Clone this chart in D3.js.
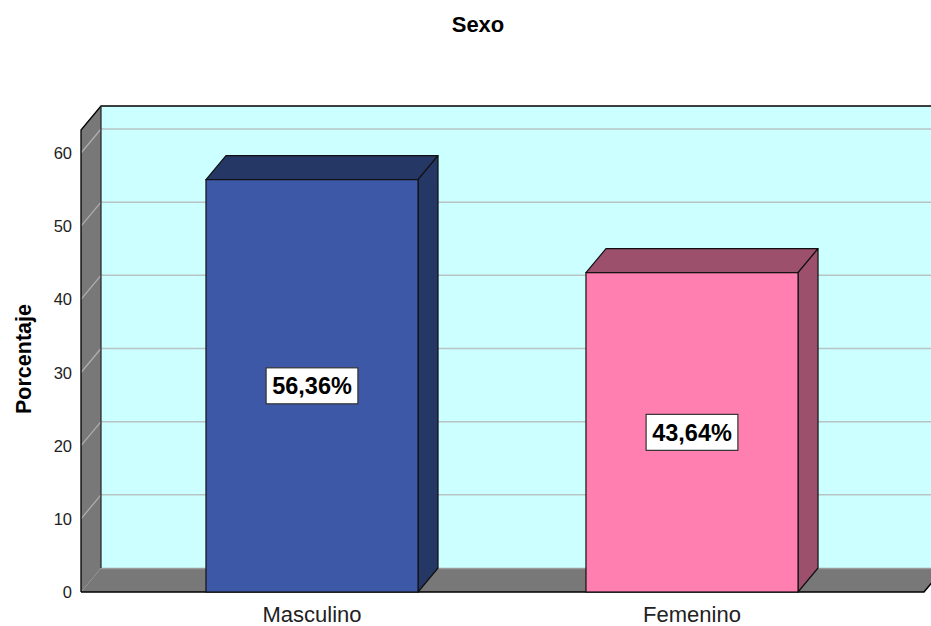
<!DOCTYPE html>
<html>
<head>
<meta charset="utf-8">
<script src="https://cdn.jsdelivr.net/npm/d3@7"></script>
<style>
  html, body { margin: 0; padding: 0; background: #fff; }
  svg { display: block; }
  text { font-family: "Liberation Sans", Arial, sans-serif; }
</style>
</head>
<body>
<svg id="chart" width="931" height="626"></svg>
<script>
const title = "Sexo";
const yTitle = "Porcentaje";
const categories = ["Masculino", "Femenino"];
const values = [56.36, 43.64];
const valueLabels = ["56,36%", "43,64%"];
const yTicks = [0, 10, 20, 30, 40, 50, 60];
const frontColors = ["#3E58A8", "#FF80B0"];
const sideColors = ["#253764", "#9C506C"];

const W = 931, H = 626;
const svg = d3.select("#chart");

// 3D depth offset
const dx = 20, dy = -24;
const x0 = 81, x1 = 924;

const y = d3.scaleLinear().domain([0, 60]).range([592, 153]);
const yTop = y.invert(130);

const x = d3.scaleBand().domain(categories).range([122, 882])
  .paddingInner(0.442).paddingOuter(0.221);

const pts = a => a.map(p => p.join(",")).join(" ");

// back wall
svg.append("polygon")
  .attr("points", pts([[x0 + dx, y(0) + dy], [x0 + dx, y(yTop) + dy], [x1 + dx, y(yTop) + dy], [x1 + dx, y(0) + dy]]))
  .attr("fill", "#CCFFFF");

// left wall
svg.append("polygon")
  .attr("points", pts([[x0, y(0)], [x0, y(yTop)], [x0 + dx, y(yTop) + dy], [x0 + dx, y(0) + dy]]))
  .attr("fill", "#787878");

// floor
svg.append("polygon")
  .attr("points", pts([[x0, y(0)], [x1, y(0)], [x1 + dx, y(0) + dy], [x0 + dx, y(0) + dy]]))
  .attr("fill", "#787878");
svg.append("line")
  .attr("x1", x0 + dx).attr("x2", x1 + dx)
  .attr("y1", y(0) + dy + 0.5).attr("y2", y(0) + dy + 0.5)
  .attr("stroke", "#9a9a9a").attr("stroke-width", 1.5);

// gridlines
const grid = svg.append("g");
yTicks.filter(t => t > 0).forEach(t => {
  grid.append("line")
    .attr("x1", x0 + dx).attr("x2", x1 + dx)
    .attr("y1", y(t) + dy).attr("y2", y(t) + dy)
    .attr("stroke", "#b8c4c4").attr("stroke-width", 1.5);
  grid.append("line")
    .attr("x1", x0).attr("x2", x0 + dx)
    .attr("y1", y(t)).attr("y2", y(t) + dy)
    .attr("stroke", "#b0b0b0").attr("stroke-width", 1.2);
});

// wall outlines
svg.append("polyline")
  .attr("points", pts([[x0, y(0)], [x0, y(yTop)], [x0 + dx, y(yTop) + dy], [x1 + dx + 20, y(yTop) + dy]]))
  .attr("fill", "none").attr("stroke", "#000").attr("stroke-width", 1.3);
svg.append("line")
  .attr("x1", x0 + dx).attr("x2", x0 + dx)
  .attr("y1", y(yTop) + dy).attr("y2", y(0) + dy)
  .attr("stroke", "#222").attr("stroke-width", 1.2);
svg.append("polyline")
  .attr("points", pts([[x0, y(0)], [x1, y(0)], [x1 + dx, y(0) + dy]]))
  .attr("fill", "none").attr("stroke", "#000").attr("stroke-width", 1.5);

// bars
const bars = svg.append("g");
categories.forEach((c, i) => {
  const bx = x(c), bw = x.bandwidth();
  const top = y(values[i]), base = y(0);
  const g = bars.append("g");
  g.append("polygon")
    .attr("points", pts([[bx, top], [bx + dx, top + dy], [bx + bw + dx, top + dy], [bx + bw, top]]))
    .attr("fill", sideColors[i]).attr("stroke", "#111").attr("stroke-width", 1.2).attr("stroke-linejoin", "round");
  g.append("polygon")
    .attr("points", pts([[bx + bw, top], [bx + bw + dx, top + dy], [bx + bw + dx, base + dy], [bx + bw, base]]))
    .attr("fill", sideColors[i]).attr("stroke", "#111").attr("stroke-width", 1.2).attr("stroke-linejoin", "round");
  g.append("rect")
    .attr("x", bx).attr("y", top).attr("width", bw).attr("height", base - top)
    .attr("fill", frontColors[i]).attr("stroke", "#111").attr("stroke-width", 1.2);

  const cx = bx + bw / 2, cy = (top + base) / 2;
  const lbl = g.append("g");
  const t = lbl.append("text")
    .attr("x", cx).attr("y", cy + 8.5)
    .attr("text-anchor", "middle")
    .attr("font-size", 23.5).attr("font-weight", "bold").attr("fill", "#000")
    .text(valueLabels[i]);
  const bb = t.node().getBBox();
  lbl.insert("rect", "text")
    .attr("x", cx - (bb.width + 12) / 2).attr("y", cy - 18)
    .attr("width", bb.width + 12).attr("height", 36)
    .attr("fill", "#fff").attr("stroke", "#333").attr("stroke-width", 1.2);
});

// y tick labels
svg.append("g").selectAll("text").data(yTicks).join("text")
  .attr("x", 72).attr("y", d => y(d) + 6)
  .attr("text-anchor", "end")
  .attr("font-size", 16.5).attr("fill", "#222")
  .text(d => d);

// x category labels
svg.append("g").selectAll("text").data(categories).join("text")
  .attr("x", d => x(d) + x.bandwidth() / 2).attr("y", 622)
  .attr("text-anchor", "middle")
  .attr("font-size", 22).attr("fill", "#222")
  .text(d => d);

// axis title
svg.append("text")
  .attr("transform", "translate(31,359) rotate(-90)")
  .attr("text-anchor", "middle")
  .attr("font-size", 21.5).attr("font-weight", "bold").attr("fill", "#000")
  .text(yTitle);

// chart title
svg.append("text")
  .attr("x", 478).attr("y", 32)
  .attr("text-anchor", "middle")
  .attr("font-size", 22).attr("font-weight", "bold").attr("fill", "#000")
  .text(title);
</script>
</body>
</html>
